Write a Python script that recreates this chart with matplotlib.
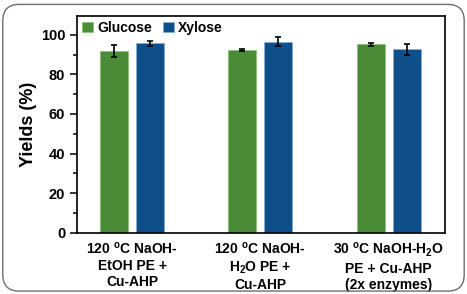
import matplotlib
matplotlib.use("Agg")
import matplotlib.pyplot as plt
import numpy as np
from matplotlib.patches import FancyBboxPatch
from matplotlib.ticker import MultipleLocator

plt.rcParams['font.family'] = ['Liberation Sans', 'DejaVu Sans']
plt.rcParams['font.weight'] = 'bold'
plt.rcParams['mathtext.fontset'] = 'custom'
plt.rcParams['mathtext.rm'] = 'Liberation Sans:bold'
plt.rcParams['mathtext.bf'] = 'Liberation Sans:bold'
plt.rcParams['mathtext.default'] = 'rm'

# data
conditions = ['120 $^{o}$C NaOH-\nEtOH PE +\nCu-AHP',
              '120 $^{o}$C NaOH-\nH$_2$O PE +\nCu-AHP',
              '30 $^{o}$C NaOH-H$_2$O\nPE + Cu-AHP\n(2x enzymes)']
glucose = [92.0, 92.4, 95.2]
glucose_err = [3.0, 0.6, 0.6]
xylose = [95.8, 96.5, 92.8]
xylose_err = [1.3, 2.4, 2.8]

green = '#4a8b37'
blue = '#0e4f8a'

fig = plt.figure(figsize=(4.67, 2.94), dpi=100)
ax = fig.add_axes([0.165, 0.2085, 0.788, 0.737])

x = np.arange(len(conditions))
w = 0.218
off = 0.14
ax.bar(x - off, glucose, w, yerr=glucose_err, color=green, edgecolor='#8fc27c',
       linewidth=0.6, capsize=2, error_kw=dict(elinewidth=1.2, capthick=1.2),
       label='Glucose')
ax.bar(x + off, xylose, w, yerr=xylose_err, color=blue, edgecolor='#7fb0d8',
       linewidth=0.6, capsize=2, error_kw=dict(elinewidth=1.2, capthick=1.2),
       label='Xylose')

ax.set_xlim(-0.43, 2.44)
ax.set_ylim(0, 109.5)
ax.yaxis.set_major_locator(MultipleLocator(20))
ax.yaxis.set_minor_locator(MultipleLocator(10))
ax.set_xticks(x)
ax.set_xticklabels(conditions, fontsize=10, fontweight='bold', linespacing=1.2)
ax.tick_params(axis='x', length=0, pad=6)
ax.tick_params(axis='y', which='major', length=5, width=1.1, labelsize=10.5)
ax.tick_params(axis='y', which='minor', length=3, width=1.1)
for lab in ax.get_yticklabels():
    lab.set_fontweight('bold')
ax.set_ylabel('Yields (%)', fontsize=13, fontweight='bold', labelpad=3)
for s in ax.spines.values():
    s.set_linewidth(1.2)

leg = ax.legend(loc='upper left', ncol=2, frameon=False, fontsize=10,
                handlelength=0.8, handleheight=0.8, handletextpad=0.3,
                columnspacing=0.8, borderaxespad=0.25, borderpad=0.1)
for t in leg.get_texts():
    t.set_fontweight('bold')

# rounded frame round the figure
frame = FancyBboxPatch((0.006, 0.01), 0.988, 0.975,
                       boxstyle='round,pad=0,rounding_size=0.035',
                       transform=fig.transFigure, fill=False,
                       edgecolor='#6e6e6e', linewidth=1.0,
                       mutation_aspect=467 / 294)
fig.patches.append(frame)

fig.savefig('out.png', dpi=100)
